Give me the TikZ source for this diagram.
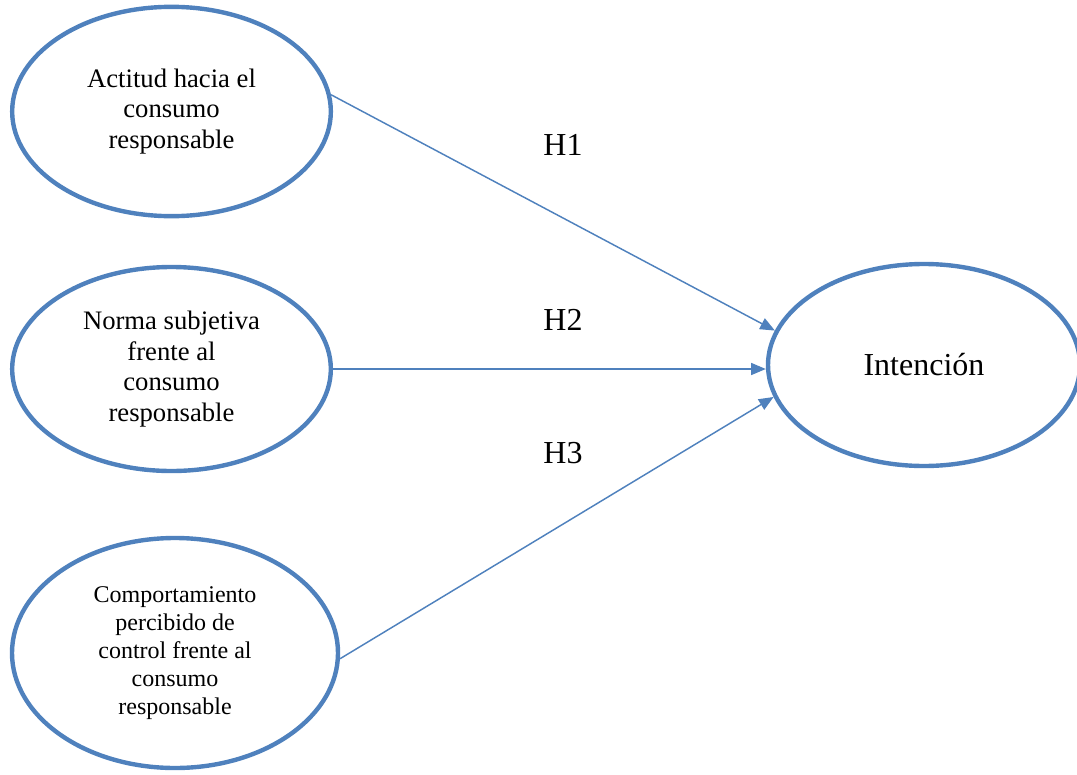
\documentclass[tikz,border=0pt]{standalone}
\usepackage{fontspec}
\setmainfont{Liberation Serif}
\usepackage{tikz}
\usetikzlibrary{arrows.meta,shapes.geometric}
\definecolor{ovalblue}{RGB}{79,129,189}

\begin{document}
\begin{tikzpicture}[x=0.75pt,y=-0.75pt,every node/.style={align=center},oval/.style={draw=ovalblue,ellipse,line width=3.3pt,inner sep=0pt},link/.style={ovalblue,line width=1.1pt,-{Triangle[length=11pt,width=9pt]}}]
	\useasboundingbox (0,0) rectangle (1077,774);
	\node[oval,minimum width=239pt,minimum height=157pt,font=\fontsize{20}{23}\selectfont] (act) at (171.5,111.5) {Actitud hacia el\\consumo\\responsable};
	\node[oval,minimum width=239pt,minimum height=153pt,font=\fontsize{20}{23}\selectfont] (norm) at (171.5,369) {Norma subjetiva\\frente al\\consumo\\responsable};
	\node[oval,minimum width=244.5pt,minimum height=172.5pt,font=\fontsize{18}{21}\selectfont] (ctrl) at (175,653) {Comportamiento\\percibido de\\control frente al\\consumo\\responsable};
	\node[oval,minimum width=234pt,minimum height=151.5pt,font=\fontsize{24}{28}\selectfont] (int) at (924,365) {Intención};

	\node[font=\fontsize{24}{28}\selectfont] (h1) at (563,145) {H1};
	\node[font=\fontsize{24}{28}\selectfont] (h2) at (563,320) {H2};
	\node[font=\fontsize{24}{28}\selectfont] (h3) at (563,453) {H3};

	\draw[link] (act.6) -- (int.167);
	\draw[link] (norm.east) -- (norm.east -| int.west);
	\draw[link] (ctrl.-2) -- (int.-168);
\end{tikzpicture}
\end{document}
